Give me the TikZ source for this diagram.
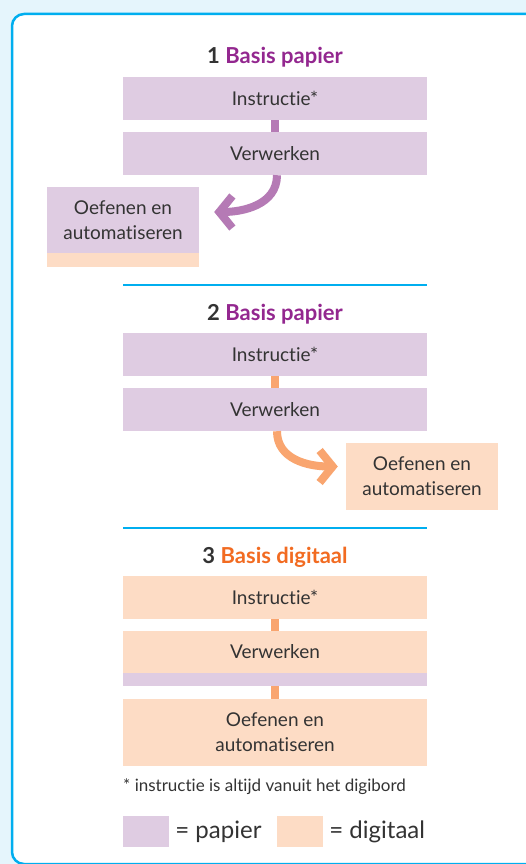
\documentclass[tikz,border=0pt]{standalone}
\usepackage{fontspec}
\setmainfont{Lato}[Ligatures=NoCommon]
\usetikzlibrary{arrows.meta}
\definecolor{bgc}{HTML}{E5F5FC}
\definecolor{cyanb}{HTML}{00AEEF}
\definecolor{pur}{HTML}{DFCCE2}
\definecolor{ora}{HTML}{FDDCC5}
\definecolor{purd}{HTML}{B57AB5}
\definecolor{orad}{HTML}{F9A56F}
\definecolor{purT}{HTML}{93278F}
\definecolor{oraT}{HTML}{F26B21}
\definecolor{txt}{HTML}{333333}
\tikzset{
  box/.style={rectangle, inner sep=0pt, text=txt, align=center,
    font=\fontsize{19}{25}\selectfont, minimum width=304pt, minimum height=43pt},
  smallbox/.style={rectangle, inner sep=0pt, text=txt, align=center,
    font=\fontsize{19}{25}\selectfont, minimum width=152pt, minimum height=66pt},
  title/.style={font=\fontsize{22}{25}\selectfont\bfseries, text=txt},
  divider/.style={cyanb, line width=2.5pt},
  arP/.style={purd, line width=8pt, -{Straight Barb[length=13pt,width=32pt]}},
  arO/.style={orad, line width=8pt, -{Straight Barb[length=13pt,width=32pt]}},
}
\begin{document}
\begin{tikzpicture}[x=1pt,y=-1pt]
\fill[bgc] (0,0) rectangle (526,864);
\begin{scope}
\clip (0,0) rectangle (526,864);
\draw[cyanb, fill=white, line width=2.5pt, rounded corners=12pt] (12,14) rectangle (580,864);
\end{scope}
% Section 1
\node[title] (t1) at (275,57) {1 \textcolor{purT}{Basis papier}};
\node[box, fill=pur] (i1) at (275,98.5) {Instructie*};
\node[box, fill=pur] (v1) at (275,153.5) {Verwerken};
\fill[purd] ([xshift=-4pt]i1.south) rectangle ([xshift=4pt]v1.north);
\node[smallbox, fill=pur] (o1) at (123,220) {Oefenen en\\automatiseren};
\fill[ora] (o1.south west) rectangle ++(152,14);
\draw[arP] ([xshift=2pt]v1.south) .. controls +(0,30) and +(28,0) .. ([xshift=15pt,yshift=8pt]o1.east);
\coordinate (d1a) at (123,285);
\coordinate (d1b) at (427,285);
\draw[divider] (d1a) -- (d1b);
% Section 2
\node[title] (t2) at (275,314) {2 \textcolor{purT}{Basis papier}};
\node[box, fill=pur] (i2) at (275,354.5) {Instructie*};
\node[box, fill=pur] (v2) at (275,409.5) {Verwerken};
\fill[orad] ([xshift=-4pt]i2.south) rectangle ([xshift=4pt]v2.north);
\node[smallbox, fill=ora, minimum height=67pt] (o2) at (422,476.5) {Oefenen en\\automatiseren};
\draw[arO] ([xshift=2pt]v2.south) .. controls +(0,28) and +(-30,0) .. ([xshift=-8pt,yshift=10pt]o2.west);
\coordinate (d2a) at (123,528);
\coordinate (d2b) at (427,528);
\draw[divider] (d2a) -- (d2b);
% Section 3
\node[title] (t3) at (275,557) {3 \textcolor{oraT}{Basis digitaal}};
\node[box, fill=ora] (i3) at (275,597.5) {Instructie*};
\node[box, fill=ora, minimum height=42pt] (v3) at (275,652) {Verwerken};
\fill[pur] (v3.south west) rectangle ++(304,13);
\node[box, fill=ora, minimum height=67pt] (o3) at (275,732.5) {Oefenen en\\automatiseren};
\fill[orad] ([xshift=-4pt]i3.south) rectangle ([xshift=4pt]v3.north);
\fill[orad] ([xshift=-4pt,yshift=-13pt]v3.south) rectangle ([xshift=4pt]o3.north);
% footnote
\node[anchor=west, inner sep=0pt, text=txt, font=\fontsize{17}{20}\selectfont] (fn) at (123,787) {* instructie is altijd vanuit het digibord};
% legend
\node[rectangle, fill=pur, minimum width=46pt, minimum height=31pt, inner sep=0pt] (lp) at (146,831.5) {};
\node[anchor=west, inner sep=0pt, text=txt, font=\fontsize{24}{28}\selectfont] (lpt) at ([xshift=6pt]lp.east) {= papier};
\node[rectangle, fill=ora, minimum width=46pt, minimum height=31pt, inner sep=0pt] (lo) at (300,831.5) {};
\node[anchor=west, inner sep=0pt, text=txt, font=\fontsize{24}{28}\selectfont] (lot) at ([xshift=6pt]lo.east) {= digitaal};
\end{tikzpicture}
\end{document}
